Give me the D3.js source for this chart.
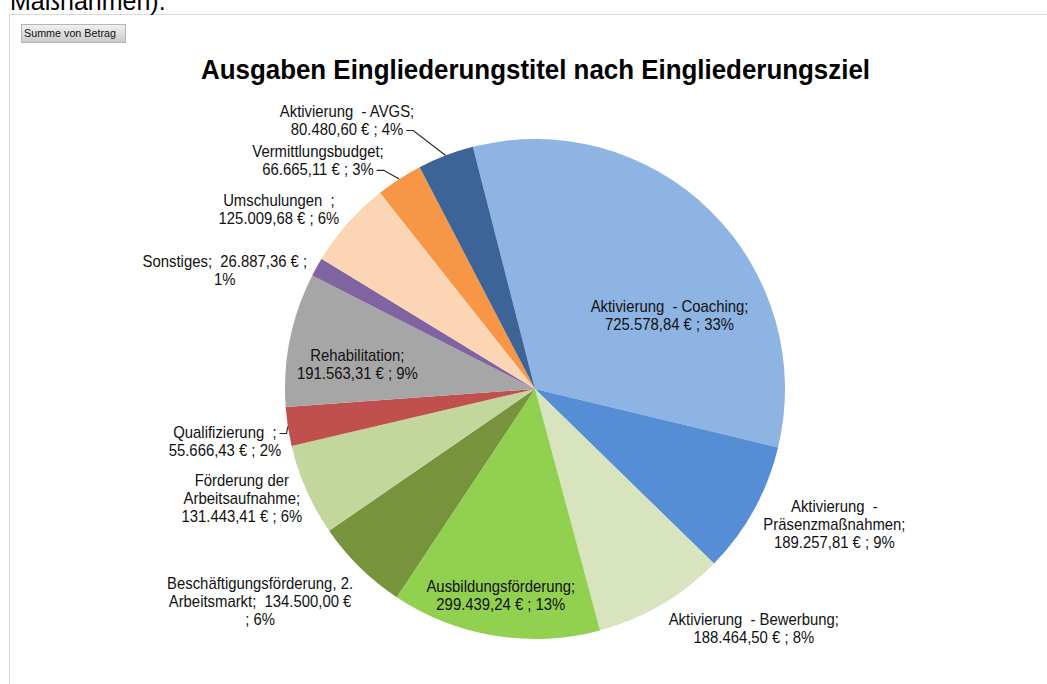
<!DOCTYPE html>
<html><head><meta charset="utf-8">
<script src="https://cdn.jsdelivr.net/npm/d3@7"></script>
<style>
body{margin:0;background:#fff;}
svg{display:block;}
text{font-family:"Liberation Sans",Arial,sans-serif;}
</style>
</head><body>
<svg id="c" width="1047" height="684"></svg>
<script>
// ---- data ----
const categories = ["Aktivierung  - Coaching","Aktivierung  - Präsenzmaßnahmen","Aktivierung  - Bewerbung","Ausbildungsförderung","Beschäftigungsförderung, 2. Arbeitsmarkt","Förderung der Arbeitsaufnahme","Qualifizierung ","Rehabilitation","Sonstiges","Umschulungen ","Vermittlungsbudget","Aktivierung  - AVGS"];
const values = [725578.84,189257.81,188464.50,299439.24,134500.00,131443.41,55666.43,191563.31,26887.36,125009.68,66665.11,80480.60];
const percentLabels = [33,9,8,13,6,6,2,9,1,6,3,4];
const colors = ["#8EB4E3","#558ED5","#D7E4BD","#92D050","#77933C","#C3D69B","#C0504D","#A6A6A6","#8064A2","#FCD5B5","#F79646","#3C6497"];
const labelTemplates = [
 "Aktivierung  - Coaching;|{v} ; {p}",
 "Aktivierung  -|Präsenzmaßnahmen;|{v} ; {p}",
 "Aktivierung  - Bewerbung;|{v} ; {p}",
 "Ausbildungsförderung;|{v} ; {p}",
 "Beschäftigungsförderung, 2.|Arbeitsmarkt;  {v}|; {p}",
 "Förderung der|Arbeitsaufnahme;|{v} ; {p}",
 "Qualifizierung  ;|{v} ; {p}",
 "Rehabilitation;|{v} ; {p}",
 "Sonstiges;  {v} ;|{p}",
 "Umschulungen  ;|{v} ; {p}",
 "Vermittlungsbudget;|{v} ; {p}",
 "Aktivierung  - AVGS;|{v} ; {p}"
];
const titleText = "Ausgaben Eingliederungstitel nach Eingliederungsziel";

// ---- layout ----
const W = 1047, H = 684;
const cx = 535, cy = 389, R = 250;
const startDeg = -14.4;
// label placement in polar form: [angle in degrees (clockwise from 12 o'clock), radius as fraction of R]
const labelPolar = [[61.4,0.613],[114.4,1.315],[137.6,1.298],[189.4,0.837],[232.3,1.39],[249.5,1.252],[260.4,1.258],[277.7,0.717],[290.9,1.328],[305.1,1.252],[316.5,1.261],[325.0,1.311]];
const hasLeader = [0,0,0,0,0,0,1,0,0,0,1,1];

const de = d3.formatLocale({decimal:",", thousands:".", grouping:[3], currency:["","\u00a0€"]});
const fmt = de.format(",.2f");

const svg = d3.select("#c");

// frame
svg.append("line").attr("x1",9.5).attr("x2",W).attr("y1",14.5).attr("y2",14.5).attr("stroke","#d9d9d9");
svg.append("line").attr("x1",9.5).attr("x2",9.5).attr("y1",14.5).attr("y2",H).attr("stroke","#d9d9d9");

// cut-off document text at top
svg.append("text").attr("x",10).attr("y",10).attr("font-size",25).attr("fill","#000").text("Maßnahmen).");

// pivot button
const defs = svg.append("defs");
const gr = defs.append("linearGradient").attr("id","btn").attr("x1",0).attr("x2",0).attr("y1",0).attr("y2",1);
gr.append("stop").attr("offset","0%").attr("stop-color","#f2f2f2");
gr.append("stop").attr("offset","100%").attr("stop-color","#c9c9c9");
svg.append("rect").attr("x",21.5).attr("y",24.5).attr("width",104).attr("height",18).attr("fill","url(#btn)").attr("stroke","#b5b5b5");
svg.append("text").attr("x",24).attr("y",37).attr("font-size",10.5).attr("fill","#111")
  .attr("textLength",92).attr("lengthAdjust","spacingAndGlyphs").text("Summe von Betrag");

// title
svg.append("text").attr("x",535.5).attr("y",79).attr("text-anchor","middle")
  .attr("font-size",28).attr("font-weight","bold").attr("fill","#000")
  .attr("textLength",669).attr("lengthAdjust","spacingAndGlyphs").text(titleText);

// pie
const pie = d3.pie().sort(null).value(d => d)
  .startAngle(startDeg*Math.PI/180).endAngle(startDeg*Math.PI/180 + 2*Math.PI);
const arcs = pie(values);
const arc = d3.arc().innerRadius(0).outerRadius(R);
const g = svg.append("g").attr("transform",`translate(${cx},${cy})`);
g.selectAll("path.slice").data(arcs).join("path").attr("class","slice")
  .attr("d",arc).attr("fill",(d,i)=>colors[i]);

// labels
const lineH = 18, sx = 0.93;
arcs.forEach((a,i) => {
  const [ang, rf] = labelPolar[i];
  const [lx, ly] = d3.pointRadial(ang*Math.PI/180, rf*R);
  const lines = labelTemplates[i].replace("{v}", fmt(values[i]) + " €").replace("{p}", percentLabels[i] + "%").split("|");
  const n = lines.length;
  const lg = g.append("g").attr("transform",`translate(${lx},${ly})`);
  const t = lg.append("text").attr("transform",`scale(${sx},1)`).attr("text-anchor","middle")
    .attr("font-size",16).attr("fill","#111").style("white-space","pre");
  const spans = lines.map((s,k) => t.append("tspan").attr("x",0).attr("y",(k-(n-1)/2)*lineH + 5.5).text(s));
  if (hasLeader[i]) {
    const mid = (a.startAngle + a.endAngle)/2;
    const [px, py] = d3.pointRadial(mid, R);
    let best = 0, bd = Infinity;
    lines.forEach((s,k) => { const yc = ly + (k-(n-1)/2)*lineH; const dd = Math.abs(yc-py); if (dd < bd) { bd = dd; best = k; } });
    const len = spans[best].node().getComputedTextLength()*sx;
    const y0 = ly + (best-(n-1)/2)*lineH + 1;
    const x0 = lx + len/2 + 3;
    g.append("path").attr("d", d3.line()([[x0,y0],[x0+7,y0],[px,py]]))
      .attr("fill","none").attr("stroke","#262626").attr("stroke-width",1.1);
  }
});
</script>
</body></html>
